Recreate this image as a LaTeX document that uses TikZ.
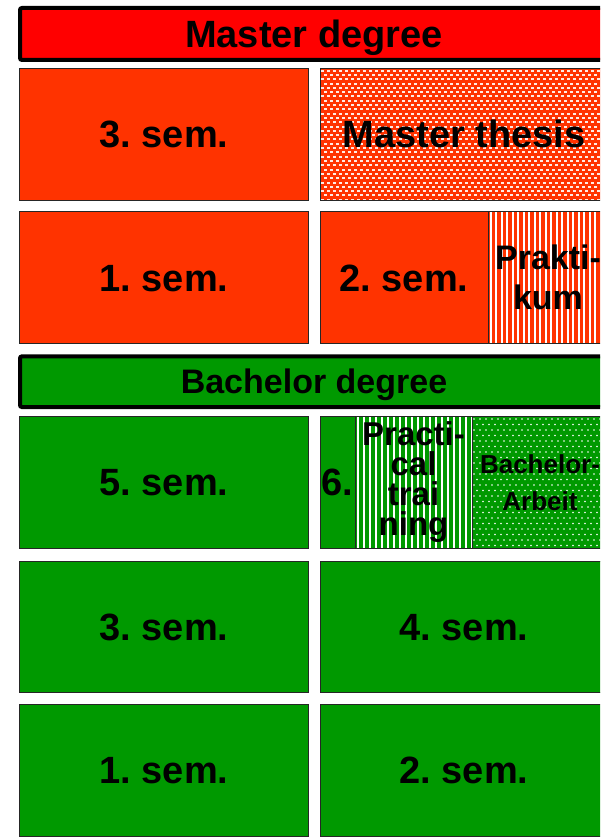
\documentclass[tikz,border=0pt]{standalone}
\usepackage{fontspec}
\setmainfont{Liberation Sans}
\frenchspacing
\definecolor{mred}{HTML}{FF0000}
\definecolor{morange}{HTML}{FF3300}
\definecolor{bgreen}{HTML}{009900}
\tikzset{
  header/.style={draw=black, line width=4pt, rounded corners=2pt, inner sep=0pt,
    minimum width=588pt, text depth=0pt},
  cell/.style={draw=black!85, line width=1pt, inner sep=0pt, minimum height=131.5pt},
  semtext/.style={font=\bfseries\fontsize{38}{38}\selectfont, text height=27.2pt, text depth=0pt},
  vstripes/.style={path picture={
    \foreach \k in {0,...,30}{
      \fill[white] ([xshift={\k*#1+1.5pt}]path picture bounding box.north west) rectangle ++(2.3pt,-140pt);}}},
  dashpat/.style={path picture={
    \foreach \r in {0,...,31}{\foreach \c in {0,...,49}{
      \fill[white!90!morange] ([xshift={\c*6pt+mod(\r,2)*3pt+0.5pt}, yshift={-\r*4.3pt-1.2pt}]path picture bounding box.north west) rectangle ++(3.8pt,-2pt);}}}},
  dotpat/.style={path picture={
    \foreach \r in {0,...,24}{\foreach \c in {0,...,23}{
      \fill[white] ([xshift={\c*6pt+mod(\r,2)*3pt+2pt}, yshift={-\r*5.5pt-2.5pt}]path picture bounding box.north west) circle (0.95pt);}}}}
}
\begin{document}
\begin{tikzpicture}[x=1pt,y=-1pt]
\useasboundingbox (0,0) rectangle (600,837);
\clip (0,0) rectangle (600,837);
% Master
\node[header, fill=mred, minimum height=52pt, text height=27.2pt, font=\bfseries\fontsize{38}{38}\selectfont] (mdeg) at (314,34) {Master degree};
\node[cell, semtext, fill=morange, minimum width=289pt] (m3) at (164,134.25) {3. sem.};
\node[cell, semtext, fill=morange, dashpat, minimum width=288pt] (mt) at (464,134.25) {Master thesis};
\node[cell, semtext, fill=morange, minimum width=289pt] (m1) at (164,277.7) {1. sem.};
\node[cell, semtext, fill=morange, minimum width=168pt] (m2) at (404,277.7) {2. sem.};
\node[cell, fill=morange, vstripes=5.5pt, minimum width=120pt, align=center,
  font=\bfseries\fontsize{34}{40}\selectfont] (mp) at (548,277.7) {Prakti-\\kum};
% Bachelor
\node[header, fill=bgreen, minimum height=50.7pt, text height=24.3pt, font=\bfseries\fontsize{34}{34}\selectfont] (bdeg) at (314,381.7) {Bachelor degree};
\node[cell, semtext, fill=bgreen, minimum width=289pt] (b5) at (164,482.25) {5. sem.};
\node[cell, semtext, fill=bgreen, minimum width=35pt] (b6) at (337.5,482.25) {6.};
\node[cell, fill=bgreen, vstripes=6pt, minimum width=117pt, align=center,
  font=\bfseries\fontsize{33}{30}\selectfont] (bp) at (413.5,482.25) {Practi-\\cal\\trai\\ning};
\node[cell, fill=bgreen, dotpat, minimum width=136pt, align=center,
  font=\bfseries\fontsize{26}{37}\selectfont] (ba) at (540,482.25) {Bachelor-\\Arbeit};
\node[cell, semtext, fill=bgreen, minimum width=289pt] (b3) at (164,626.75) {3. sem.};
\node[cell, semtext, fill=bgreen, minimum width=288pt] (b4) at (464,626.75) {4. sem.};
\node[cell, semtext, fill=bgreen, minimum width=289pt] (b1) at (164,770.25) {1. sem.};
\node[cell, semtext, fill=bgreen, minimum width=288pt] (b2) at (464,770.25) {2. sem.};
\end{tikzpicture}
\end{document}
